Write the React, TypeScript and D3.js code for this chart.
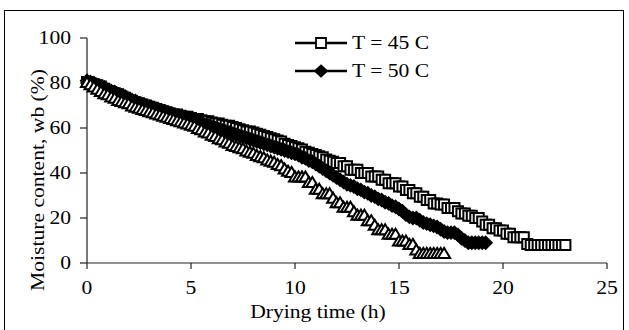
import React from 'react';
import * as d3 from 'd3';

// readings taken every 10 minutes
const STEP_H = 1 / 6;

const moisture45 = [
  80.5, 80, 79.5, 79, 78.5, 77.5,
  76.5, 76, 75.5, 75, 74, 73.5,
  72.5, 72, 71.5, 71, 70.5, 70,
  69.5, 69, 68.5, 68, 67.5, 67,
  66.5, 66, 66, 65.5, 65, 65,
  64.5, 64, 64, 63.5, 63, 63,
  62.5, 62, 62, 61.5, 61, 61,
  60.5, 60, 59.5, 59, 58.5, 58.5,
  58, 57.5, 57, 56.5, 56, 55.5,
  55, 54.5, 54, 53, 52.5, 52,
  51.5, 51, 50.5, 49.5, 49, 48.5,
  48, 47.5, 47, 46, 45.5, 45,
  44.5, 44.5, 43, 43, 41.5, 41.5,
  41.5, 40, 40, 40, 38.5, 38.5,
  38.5, 37, 37, 35.5, 35.5, 35.5,
  34, 34, 32.5, 32.5, 31, 31,
  29.5, 29.5, 28, 28, 26.5, 26.5,
  26, 26, 24.5, 24.5, 24.5, 23,
  22, 22, 21, 21, 20, 20,
  18.5, 17, 17, 15.5, 15.5, 14.5,
  14.5, 13, 13, 11.5, 11.5, 11.5,
  11.5, 8.5, 8, 8, 8, 8,
  8, 8, 8, 8, 8, 8,
  8,
];

const moisture50 = [
  81, 80.5, 80, 79, 78.5, 78,
  77, 76.5, 76, 75, 74.5, 74,
  73, 72.5, 72, 71, 70.5, 70,
  69.5, 69, 68.5, 68, 67.5, 67,
  66.5, 66, 65.5, 65, 64.5, 64,
  63.5, 63, 62.5, 62, 61.5, 61,
  60.5, 60, 59.5, 59, 58.5, 58,
  57.5, 57, 56.5, 56, 55.5, 55,
  54.5, 54, 53.5, 53, 52.5, 52,
  51.5, 51, 50.5, 50, 49.5, 49,
  48.5, 48, 47, 46.5, 45.5, 45,
  44, 43, 42, 41, 40, 39,
  38, 37, 36, 35, 34.5, 34,
  33, 32.5, 31.5, 31, 30, 29.5,
  28.5, 28, 27, 26.5, 25.5, 25,
  24, 23, 21.5, 20.5, 20, 20,
  19, 18, 17.5, 17, 16.5, 16,
  15, 14, 13.5, 13.5, 13.5, 12.5,
  11, 10, 9, 9, 9, 9,
  9, 9,
];

const moisture55 = [
  80.5, 79.5, 78.5, 77.5, 76.5, 75.5,
  75, 74, 73.5, 72.5, 72, 71.5,
  71, 70, 69.5, 69, 68.5, 68,
  67.5, 67, 66.5, 66, 65.5, 65,
  64.5, 64, 63.5, 63, 62.5, 62,
  61.5, 61, 60, 59.5, 58.5, 58,
  57, 56.5, 55.5, 55, 54, 53.5,
  52.5, 52, 51.5, 51, 50, 49.5,
  49, 48, 47.5, 47, 46, 45.5,
  45, 44, 43.5, 42, 41, 40.5,
  38.5, 38.5, 38.5, 38.5, 36, 36,
  33, 33, 31, 31, 31, 29,
  27, 27, 25, 25, 25, 23,
  21.5, 21.5, 21.5, 19, 19, 17,
  15, 15, 15, 13, 13, 13,
  10, 10, 10, 8.5, 8.5, 6,
  4.5, 4.5, 4.5, 4.5, 4.5, 4.5,
  4.5, 4.5,
];

const xTicks = [0, 5, 10, 15, 20, 25];
const yTicks = [0, 20, 40, 60, 80, 100];
const legendLabels = ['T = 45 C', 'T = 50 C'];
const xTitle = 'Drying time (h)';
const yTitle = 'Moisture content, wb (%)';

const FONT = '"Liberation Serif", "Times New Roman", serif';
const FS = 18;
const SX = 1.2;

type Pt = { t: number; v: number };
const toPts = (arr: number[]): Pt[] => arr.map((v, i) => ({ t: i * STEP_H, v }));

function Txt(props: { x: number; y: number; anchor?: string; rotate?: boolean; children: string }) {
  const { x, y, anchor = 'start', rotate = false, children } = props;
  return (
    <text
      transform={`translate(${x},${y})${rotate ? ' rotate(-90)' : ''} scale(${SX},1)`}
      textAnchor={anchor}
      fontFamily={FONT}
      fontSize={FS}
      fill="#000"
    >
      {children}
    </text>
  );
}

const squarePath = (w: number, h: number) =>
  `M${-w / 2},${-h / 2}H${w / 2}V${h / 2}H${-w / 2}Z`;
const diamondPath = (w: number, h: number) =>
  `M0,${-h / 2}L${w / 2},0L0,${h / 2}L${-w / 2},0Z`;
const trianglePath = (w: number, h: number) =>
  `M0,${-h / 2}L${w / 2},${h / 2}L${-w / 2},${h / 2}Z`;

export default function App() {
  const W = 629;
  const H = 330;
  const x = d3.scaleLinear().domain([0, 25]).range([87, 607]);
  const y = d3.scaleLinear().domain([0, 100]).range([263, 38]);
  const line = d3
    .line<Pt>()
    .x((d) => x(d.t))
    .y((d) => y(d.v));

  const series = [
    { data: toPts(moisture45), marker: squarePath(10, 10), fill: '#fff' },
    { data: toPts(moisture50), marker: diamondPath(12, 12), fill: '#000' },
    { data: toPts(moisture55), marker: trianglePath(12, 10), fill: '#fff' },
  ];

  const legendMarkers = [
    { marker: squarePath(10, 10), fill: '#fff' },
    { marker: diamondPath(12, 11), fill: '#000' },
  ];

  return (
    <div style={{ position: 'absolute', left: 0, top: 0 }}>
      <svg width={W} height={H} style={{ display: 'block', background: '#fff' }}>
        <rect x={0} y={0} width={W} height={H} fill="#fff" />
        <rect x={4.5} y={10.5} width={619} height={330} fill="none" stroke="#000" strokeWidth={1} />

        {/* axes */}
        <line x1={x(0)} x2={x(0)} y1={y(100)} y2={y(0)} stroke="#222" strokeWidth={1.2} />
        <line x1={x(0)} x2={x(25)} y1={y(0)} y2={y(0)} stroke="#222" strokeWidth={1.2} />
        {yTicks.map((t) => (
          <g key={'y' + t}>
            <line x1={x(0) - 7} x2={x(0)} y1={y(t)} y2={y(t)} stroke="#222" strokeWidth={1.2} />
            <Txt x={71} y={y(t) + 6} anchor="end">{String(t)}</Txt>
          </g>
        ))}
        {xTicks.map((t) => (
          <g key={'x' + t}>
            <line x1={x(t)} x2={x(t)} y1={y(0)} y2={y(0) + 6} stroke="#222" strokeWidth={1.2} />
            <Txt x={x(t)} y={294} anchor="middle">{String(t)}</Txt>
          </g>
        ))}
        <Txt x={318} y={318} anchor="middle">{xTitle}</Txt>
        <Txt x={44} y={180} anchor="middle" rotate>{yTitle}</Txt>

        {/* series */}
        {series.map((s, si) => (
          <g key={'s' + si}>
            <path d={line(s.data) || ''} fill="none" stroke="#000" strokeWidth={2} />
            {s.data.map((d, i) => (
              <path
                key={i}
                d={s.marker}
                transform={`translate(${x(d.t)},${y(d.v)})`}
                fill={s.fill}
                stroke="#000"
                strokeWidth={2}
              />
            ))}
          </g>
        ))}

        {/* legend */}
        {legendLabels.map((lab, i) => {
          const ly = 43 + i * 28;
          return (
            <g key={'l' + i}>
              <line x1={295} x2={347} y1={ly} y2={ly} stroke="#000" strokeWidth={2.5} />
              <path
                d={legendMarkers[i].marker}
                transform={`translate(321,${ly})`}
                fill={legendMarkers[i].fill}
                stroke="#000"
                strokeWidth={1.8}
              />
              <Txt x={352} y={ly + 6}>{lab}</Txt>
            </g>
          );
        })}
      </svg>
    </div>
  );
}
